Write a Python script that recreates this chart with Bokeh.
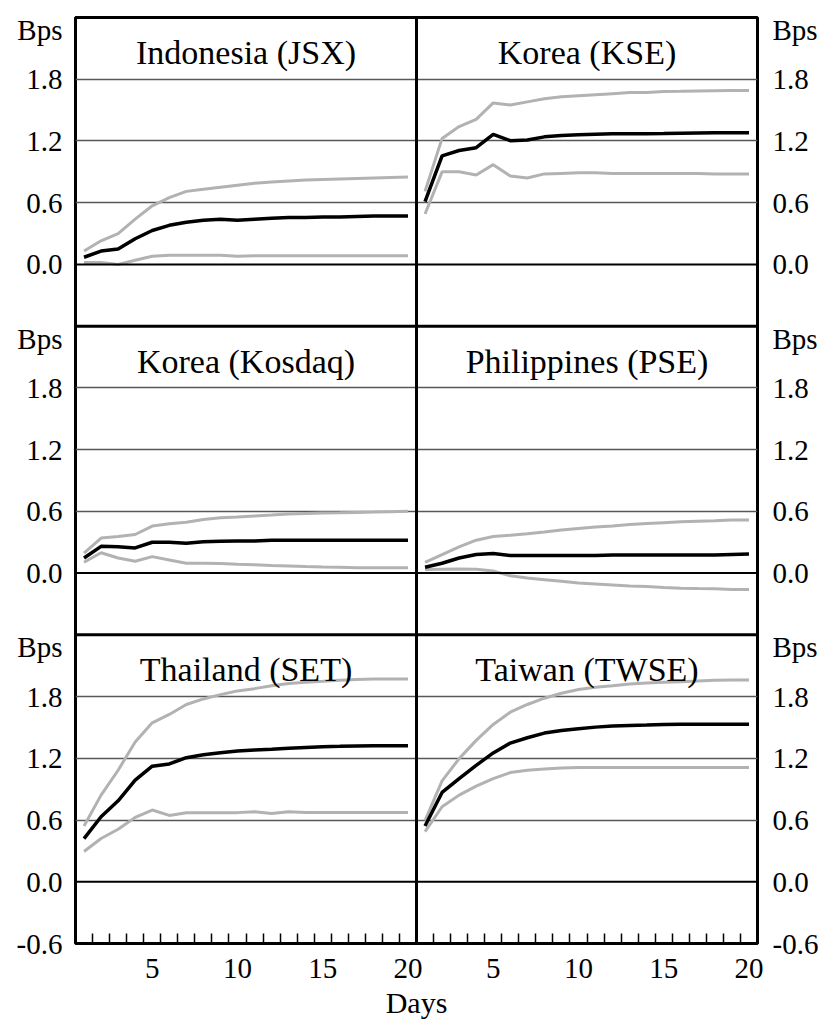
from bokeh.plotting import figure
from bokeh.models import FixedTicker, Span, Label, Range1d, LinearAxis, Grid
from bokeh.embed import file_html
from bokeh.resources import INLINE

days = list(range(1, 21))

titles = ["Indonesia (JSX)", "Korea (KSE)", "Korea (Kosdaq)",
          "Philippines (PSE)", "Thailand (SET)", "Taiwan (TWSE)"]

jsx_mid = [0.07, 0.13, 0.15, 0.25, 0.33, 0.38, 0.41, 0.43, 0.44, 0.43,
           0.44, 0.45, 0.455, 0.455, 0.46, 0.46, 0.465, 0.47, 0.47, 0.47]
jsx_hi = [0.13, 0.23, 0.30, 0.44, 0.57, 0.65, 0.71, 0.73, 0.75, 0.77,
          0.79, 0.80, 0.81, 0.82, 0.825, 0.83, 0.835, 0.84, 0.845, 0.85]
jsx_lo = [0.02, 0.02, 0.0, 0.04, 0.08, 0.09, 0.09, 0.09, 0.09, 0.08,
          0.085, 0.085, 0.085, 0.085, 0.085, 0.085, 0.085, 0.085, 0.085, 0.085]

kse_mid = [0.61, 1.055, 1.107, 1.135, 1.264, 1.203, 1.21, 1.24, 1.254, 1.26,
           1.265, 1.27, 1.27, 1.27, 1.272, 1.275, 1.278, 1.28, 1.28, 1.28]
kse_hi = [0.71, 1.225, 1.34, 1.41, 1.57, 1.55, 1.58, 1.61, 1.63, 1.64,
          1.65, 1.66, 1.67, 1.672, 1.68, 1.682, 1.685, 1.688, 1.69, 1.69]
kse_lo = [0.49, 0.90, 0.90, 0.87, 0.97, 0.86, 0.84, 0.88, 0.885, 0.89,
          0.89, 0.885, 0.885, 0.885, 0.885, 0.885, 0.885, 0.88, 0.88, 0.88]

kosdaq_mid = [0.147, 0.26, 0.255, 0.245, 0.30, 0.30, 0.29, 0.305, 0.31, 0.312,
              0.312, 0.32, 0.32, 0.32, 0.32, 0.32, 0.32, 0.32, 0.32, 0.32]
kosdaq_hi = [0.195, 0.34, 0.355, 0.375, 0.457, 0.48, 0.495, 0.52, 0.537, 0.546,
             0.556, 0.565, 0.575, 0.58, 0.583, 0.586, 0.59, 0.593, 0.597, 0.60]
kosdaq_lo = [0.105, 0.198, 0.147, 0.115, 0.16, 0.128, 0.096, 0.096, 0.093, 0.086,
             0.08, 0.073, 0.07, 0.064, 0.06, 0.057, 0.051, 0.051, 0.051, 0.051]

pse_mid = [0.057, 0.096, 0.147, 0.18, 0.19, 0.17, 0.17, 0.17, 0.17, 0.17,
           0.172, 0.175, 0.175, 0.175, 0.175, 0.175, 0.175, 0.175, 0.18, 0.185]
pse_hi = [0.105, 0.18, 0.255, 0.32, 0.355, 0.367, 0.383, 0.40, 0.418, 0.434,
          0.447, 0.457, 0.473, 0.482, 0.49, 0.498, 0.505, 0.51, 0.517, 0.517]
pse_lo = [0.035, 0.038, 0.04, 0.038, 0.02, -0.026, -0.048, -0.064, -0.08, -0.096,
          -0.105, -0.115, -0.125, -0.13, -0.14, -0.147, -0.15, -0.152, -0.16, -0.16]

set_mid = [0.42, 0.632, 0.787, 0.987, 1.123, 1.145, 1.206, 1.235, 1.255, 1.271,
           1.28, 1.287, 1.297, 1.306, 1.313, 1.316, 1.32, 1.323, 1.323, 1.323]
set_hi = [0.542, 0.842, 1.084, 1.358, 1.545, 1.626, 1.723, 1.777, 1.819, 1.855,
          1.877, 1.906, 1.926, 1.939, 1.948, 1.958, 1.965, 1.971, 1.971, 1.971]
set_lo = [0.294, 0.42, 0.51, 0.626, 0.697, 0.645, 0.671, 0.671, 0.671, 0.672,
          0.68, 0.664, 0.68, 0.674, 0.674, 0.674, 0.674, 0.674, 0.674, 0.674]

twse_mid = [0.542, 0.868, 1.003, 1.132, 1.252, 1.348, 1.40, 1.445, 1.471, 1.487,
            1.503, 1.513, 1.519, 1.523, 1.529, 1.532, 1.532, 1.532, 1.532, 1.532]
twse_hi = [0.594, 0.98, 1.197, 1.374, 1.529, 1.648, 1.723, 1.784, 1.832, 1.868,
           1.89, 1.906, 1.923, 1.932, 1.939, 1.945, 1.952, 1.958, 1.96, 1.961]
twse_lo = [0.487, 0.729, 0.842, 0.929, 1.003, 1.061, 1.084, 1.097, 1.106, 1.11,
           1.11, 1.11, 1.11, 1.11, 1.11, 1.11, 1.11, 1.11, 1.11, 1.11]

series = [
    (jsx_mid, jsx_hi, jsx_lo),
    (kse_mid, kse_hi, kse_lo),
    (kosdaq_mid, kosdaq_hi, kosdaq_lo),
    (pse_mid, pse_hi, pse_lo),
    (set_mid, set_hi, set_lo),
    (twse_mid, twse_hi, twse_lo),
]

y_ticks = [-0.6, 0.0, 0.6, 1.2, 1.8]
y_tick_labels = ["-0.6", "0.0", "0.6", "1.2", "1.8"]
unit_label = "Bps"
unit_pos = 2.28
x_ticks = [5, 10, 15, 20]
x_label = "Days"

FONT = "Liberation Serif"
TICK_SIZE = "29px"
GRAY = "#b2b2b2"

# panel extents (data units of one panel)
X0, X1 = 0.5, 20.5
Y0, Y1 = -0.6, 2.4
XW = X1 - X0
YH = Y1 - Y0

# main ranges: left column / bottom row; extra ranges place the other panels
p = figure(width=826, height=1021,
           x_range=Range1d(X0, X1 + XW), y_range=Range1d(Y0, Y1 + 2 * YH),
           toolbar_location=None, output_backend="svg",
           min_border_left=75, min_border_right=69,
           min_border_top=17, min_border_bottom=73)
p.extra_x_ranges = {"c0": Range1d(X0, X1 + XW), "c1": Range1d(X0 - XW, X1)}
p.extra_y_ranges = {"r0": Range1d(Y0 - 2 * YH, Y1),
                    "r1": Range1d(Y0 - YH, Y1 + YH),
                    "r2": Range1d(Y0, Y1 + 2 * YH)}

p.outline_line_color = "black"
p.outline_line_width = 3
p.xgrid.visible = False
p.ygrid.visible = False

ytick_pos = []
ytick_lab = {}
grid_pos = []
zero_pos = []
for r in range(3):
    off = (2 - r) * YH
    for t, lab in zip(y_ticks, y_tick_labels):
        if t < -0.5 and r < 2:
            continue
        ytick_pos.append(t + off)
        ytick_lab[t + off] = lab
        if t > 0:
            grid_pos.append(t + off)
        if t == 0:
            zero_pos.append(t + off)
    ytick_pos.append(unit_pos + off)
    ytick_lab[unit_pos + off] = unit_label

g = Grid(dimension=1, ticker=FixedTicker(ticks=grid_pos),
         grid_line_color="#575757", grid_line_width=1.5)
p.add_layout(g)
for z in zero_pos:
    p.add_layout(Span(location=z, dimension="width", line_color="black",
                      line_width=2))

# panel dividers
p.add_layout(Span(location=X1, dimension="height", line_color="black",
                  line_width=3))
for r in range(1, 3):
    p.add_layout(Span(location=Y1 + (r - 1) * YH, dimension="width",
                      line_color="black", line_width=3))

ly = p.yaxis[0]
ry = LinearAxis()
p.add_layout(ry, "right")
for ax, so in ((ly, 13), (ry, 15)):
    ax.ticker = FixedTicker(ticks=ytick_pos)
    ax.major_label_overrides = dict(ytick_lab)
    ax.axis_line_color = None
    ax.major_tick_in = 0
    ax.major_tick_out = 0
    ax.minor_tick_in = 0
    ax.minor_tick_out = 0
    ax.major_label_standoff = so
    ax.major_label_text_font = FONT
    ax.major_label_text_font_size = TICK_SIZE
    ax.major_label_text_color = "black"

xa = p.xaxis[0]
xpos = x_ticks + [t + XW for t in x_ticks]
xa.ticker = FixedTicker(ticks=xpos,
                        minor_ticks=[d + 0.5 for d in days[:-1]] +
                                    [d + 0.5 + XW for d in days[:-1]])
xa.major_label_overrides = {t: str(v) for t, v in zip(xpos, x_ticks + x_ticks)}
xa.axis_line_color = None
xa.major_tick_in = 0
xa.major_tick_out = 0
xa.minor_tick_in = 10
xa.minor_tick_out = 0
xa.minor_tick_line_color = "black"
xa.minor_tick_line_width = 1.5
xa.major_label_standoff = 15
xa.major_label_text_font = FONT
xa.major_label_text_font_size = TICK_SIZE
xa.major_label_text_color = "black"
xa.axis_label = x_label
xa.axis_label_text_font = FONT
xa.axis_label_text_font_size = "30px"
xa.axis_label_text_font_style = "normal"
xa.axis_label_text_color = "black"
xa.axis_label_standoff = 5

for i, (title, (mid, hi, lo)) in enumerate(zip(titles, series)):
    r, c = divmod(i, 2)
    xr, yr = "c%d" % c, "r%d" % r
    p.line(days, hi, line_color=GRAY, line_width=3,
           x_range_name=xr, y_range_name=yr)
    p.line(days, lo, line_color=GRAY, line_width=3,
           x_range_name=xr, y_range_name=yr)
    p.line(days, mid, line_color="black", line_width=3.5,
           x_range_name=xr, y_range_name=yr)
    p.add_layout(Label(x=(X0 + X1) / 2, y=2.06, text=title,
                       x_range_name=xr, y_range_name=yr,
                       text_align="center", text_baseline="alphabetic",
                       text_font=FONT, text_font_size="34px",
                       text_color="black"))

with open("out.html", "w") as f:
    f.write(file_html(p, INLINE))
